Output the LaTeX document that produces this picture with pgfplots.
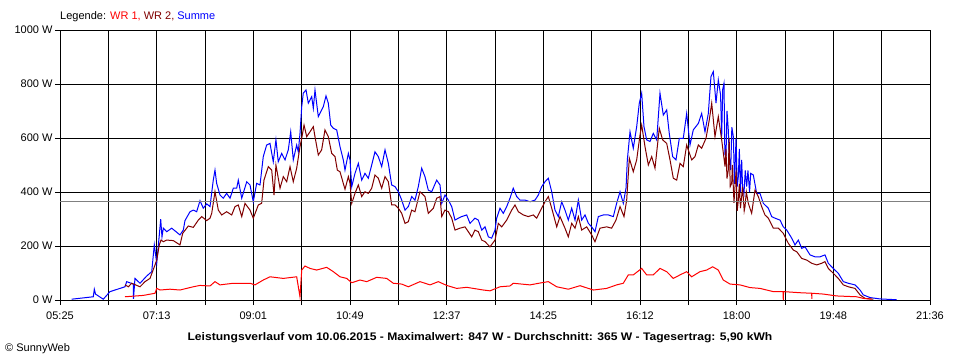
\documentclass[border=0pt]{standalone}
\usepackage{graphicx}
\usepackage{pgfplots}
\pgfplotsset{compat=1.18}
\usepackage{fontspec}
\setmainfont{Liberation Sans}
\definecolor{wrone}{RGB}{255,0,0}
\definecolor{wrtwo}{RGB}{128,0,0}
\definecolor{summe}{RGB}{0,0,255}
\definecolor{avg}{RGB}{128,128,128}

\begin{document}
\begin{tikzpicture}[font=\fontsize{11pt}{13pt}\selectfont]
\begin{axis}[
  at={(60pt,60pt)}, anchor=south west,
  scale only axis, width=870pt, height=270pt,
  xmin=5.4, xmax=21.6, ymin=0, ymax=1000,
  xtick={5.4,7.2,9.0,10.8,12.6,14.4,16.2,18.0,19.8,21.6},
  xticklabels={05:25,07:13,09:01,10:49,12:37,14:25,16:12,18:00,19:48,21:36},
  minor xtick={6.3,8.1,9.9,11.7,13.5,15.3,17.1,18.9,20.7},
  ytick={0,200,400,600,800,1000},
  yticklabels={0 W,200 W,400 W,600 W,800 W,1000 W},
  xtick pos=bottom, ytick pos=left,
  tick align=outside,
  major tick length=5pt, minor tick length=5pt,
  tick style={black, line width=1pt},
  minor tick style={black, line width=1pt},
  grid=both,
  major grid style={black, line width=1pt},
  minor grid style={black, line width=1pt},
  axis line style={black, line width=1pt},
  ticklabel style={font=\fontsize{11pt}{13pt}\selectfont},
  xticklabel style={yshift=-3pt},
  yticklabel style={xshift=1pt},
]
\addplot[summe, line width=1pt] coordinates {
(5.618,3)(6.020,12)(6.039,40)(6.061,22)(6.206,3)(6.331,31)(6.610,49)(6.642,68)(6.764,59)(6.768,4)(6.796,80)(6.890,62)(7.015,89)(7.108,105)(7.156,204)(7.201,136)(7.249,241)(7.275,299)(7.299,234)(7.324,266)(7.387,253)(7.480,266)(7.634,241)(7.696,259)(7.727,294)(7.821,327)(7.882,333)(7.945,327)(8.007,368)(8.068,340)(8.132,356)(8.193,346)(8.254,444)(8.286,481)(8.317,432)(8.379,389)(8.440,377)(8.503,395)(8.566,377)(8.627,414)(8.690,414)(8.720,444)(8.784,377)(8.877,438)(8.938,426)(8.999,364)(9.062,432)(9.124,426)(9.185,531)(9.248,574)(9.310,580)(9.371,512)(9.421,593)(9.464,512)(9.528,543)(9.590,519)(9.651,556)(9.696,623)(9.744,519)(9.807,574)(9.837,549)(9.869,617)(9.901,716)(9.930,766)(9.981,778)(10.024,729)(10.087,753)(10.117,710)(10.148,778)(10.210,679)(10.303,716)(10.353,756)(10.396,729)(10.441,648)(10.489,636)(10.552,630)(10.614,568)(10.675,519)(10.707,481)(10.769,543)(10.800,519)(10.832,420)(10.893,469)(10.955,506)(11.018,444)(11.079,469)(11.141,451)(11.204,500)(11.265,549)(11.327,531)(11.390,494)(11.452,556)(11.514,506)(11.576,426)(11.638,420)(11.700,401)(11.763,370)(11.824,333)(11.886,346)(11.949,383)(12.010,370)(12.072,420)(12.135,488)(12.196,457)(12.258,407)(12.321,401)(12.414,444)(12.476,426)(12.508,358)(12.569,389)(12.631,370)(12.694,346)(12.755,296)(12.817,303)(12.880,309)(12.973,315)(13.034,284)(13.127,303)(13.189,296)(13.253,259)(13.314,271)(13.376,234)(13.438,229)(13.500,259)(13.531,303)(13.593,340)(13.654,321)(13.718,346)(13.779,377)(13.840,414)(13.904,383)(13.966,370)(14.059,370)(14.152,364)(14.245,370)(14.307,389)(14.370,420)(14.431,438)(14.493,451)(14.556,401)(14.617,333)(14.679,309)(14.742,364)(14.803,333)(14.865,296)(14.928,340)(14.990,296)(15.052,370)(15.114,296)(15.176,315)(15.238,284)(15.300,271)(15.362,253)(15.424,309)(15.517,315)(15.610,315)(15.703,309)(15.765,358)(15.828,401)(15.889,358)(15.940,415)(15.964,519)(16.014,623)(16.075,562)(16.138,642)(16.187,729)(16.231,766)(16.274,642)(16.324,593)(16.386,587)(16.447,617)(16.511,593)(16.572,766)(16.634,685)(16.697,704)(16.745,617)(16.808,531)(16.870,519)(16.932,599)(17.006,599)(17.069,691)(17.131,574)(17.192,630)(17.286,654)(17.348,691)(17.410,623)(17.472,691)(17.521,827)(17.565,846)(17.615,729)(17.658,815)(17.700,760)(17.721,605)(17.740,780)(17.764,803)(17.780,540)(17.801,531)(17.820,700)(17.844,630)(17.860,540)(17.889,481)(17.910,640)(17.938,605)(17.960,430)(17.988,599)(18.010,420)(18.031,457)(18.050,560)(18.070,400)(18.093,519)(18.110,420)(18.136,395)(18.160,480)(18.186,420)(18.210,480)(18.240,400)(18.261,469)(18.310,463)(18.372,395)(18.434,395)(18.496,358)(18.589,340)(18.652,309)(18.714,303)(18.807,296)(18.868,271)(18.932,259)(19.025,229)(19.086,204)(19.148,222)(19.211,191)(19.272,197)(19.366,167)(19.459,160)(19.552,160)(19.645,167)(19.706,136)(19.799,117)(19.892,99)(19.986,68)(20.079,62)(20.203,56)(20.297,37)(20.358,19)(20.483,9)(20.669,4)(20.980,1)
};
\addplot[wrtwo, line width=1pt] coordinates {
(6.610,56)(6.672,49)(6.735,62)(6.890,49)(6.983,68)(7.076,80)(7.169,130)(7.201,148)(7.249,204)(7.281,222)(7.324,216)(7.387,222)(7.510,220)(7.634,204)(7.685,247)(7.789,274)(7.882,269)(7.976,296)(8.039,309)(8.132,294)(8.193,303)(8.225,321)(8.286,401)(8.348,333)(8.411,315)(8.503,327)(8.597,315)(8.659,346)(8.720,352)(8.784,309)(8.845,358)(8.938,333)(8.999,303)(9.093,352)(9.155,358)(9.198,444)(9.279,494)(9.342,481)(9.385,389)(9.421,500)(9.497,414)(9.558,457)(9.621,438)(9.683,494)(9.744,438)(9.807,488)(9.869,568)(9.901,599)(9.944,648)(9.994,605)(10.055,623)(10.117,642)(10.148,605)(10.210,537)(10.272,556)(10.334,630)(10.396,605)(10.459,543)(10.521,531)(10.564,481)(10.614,475)(10.675,432)(10.707,410)(10.769,457)(10.800,432)(10.832,358)(10.893,395)(10.955,426)(11.018,383)(11.079,401)(11.141,395)(11.204,414)(11.265,463)(11.327,451)(11.390,414)(11.452,457)(11.514,438)(11.576,352)(11.638,352)(11.700,340)(11.763,321)(11.824,284)(11.886,290)(11.949,333)(12.010,327)(12.103,401)(12.196,383)(12.258,321)(12.352,340)(12.414,377)(12.476,383)(12.508,309)(12.569,333)(12.631,327)(12.694,303)(12.755,259)(12.848,266)(12.941,271)(13.003,253)(13.066,234)(13.127,259)(13.189,253)(13.253,222)(13.314,216)(13.407,197)(13.500,222)(13.562,284)(13.625,271)(13.718,296)(13.811,333)(13.872,352)(13.934,327)(14.027,315)(14.120,309)(14.213,315)(14.276,303)(14.369,340)(14.431,364)(14.493,383)(14.556,340)(14.649,271)(14.710,309)(14.803,266)(14.865,234)(14.928,284)(14.990,266)(15.052,309)(15.114,259)(15.207,271)(15.300,241)(15.362,216)(15.455,266)(15.580,271)(15.672,266)(15.753,296)(15.828,346)(15.902,309)(15.952,370)(16.001,525)(16.075,475)(16.138,519)(16.200,611)(16.231,648)(16.293,568)(16.355,500)(16.418,531)(16.479,488)(16.559,636)(16.622,593)(16.697,580)(16.759,519)(16.820,451)(16.883,444)(16.945,506)(17.006,494)(17.069,574)(17.162,519)(17.224,531)(17.286,574)(17.348,562)(17.429,599)(17.490,667)(17.535,729)(17.596,605)(17.658,679)(17.721,593)(17.783,494)(17.800,560)(17.820,450)(17.844,481)(17.860,600)(17.880,420)(17.907,432)(17.920,500)(17.950,360)(17.969,420)(17.990,480)(18.010,330)(18.031,370)(18.050,430)(18.070,340)(18.093,383)(18.110,420)(18.140,330)(18.155,346)(18.180,400)(18.217,358)(18.279,321)(18.341,407)(18.403,383)(18.465,346)(18.527,315)(18.589,303)(18.682,266)(18.775,266)(18.868,247)(18.962,210)(19.055,185)(19.118,179)(19.211,154)(19.304,148)(19.397,136)(19.490,130)(19.583,136)(19.645,142)(19.706,117)(19.799,99)(19.892,80)(19.986,56)(20.079,49)(20.203,43)(20.297,19)(20.390,6)(20.545,3)
};
\addplot[wrone, line width=1pt] coordinates {
(6.610,12)(6.951,17)(7.169,25)(7.201,43)(7.262,37)(7.448,40)(7.634,37)(7.882,49)(8.007,54)(8.193,52)(8.286,68)(8.379,56)(8.627,62)(8.938,62)(9.031,56)(9.185,74)(9.310,86)(9.558,80)(9.807,86)(9.869,12)(9.901,111)(9.962,126)(10.055,117)(10.179,111)(10.366,121)(10.489,105)(10.614,86)(10.738,80)(10.832,64)(10.986,74)(11.111,68)(11.297,84)(11.483,80)(11.607,62)(11.763,59)(11.886,49)(12.103,68)(12.290,56)(12.445,68)(12.600,54)(12.786,43)(12.973,47)(13.096,43)(13.283,37)(13.407,34)(13.593,49)(13.779,52)(13.840,62)(14.152,56)(14.370,64)(14.493,68)(14.649,49)(14.865,40)(15.083,53)(15.331,37)(15.580,43)(15.765,56)(15.889,62)(15.982,93)(16.075,93)(16.231,117)(16.324,93)(16.447,93)(16.572,117)(16.697,105)(16.820,80)(16.945,93)(17.069,105)(17.162,86)(17.317,105)(17.441,111)(17.553,123)(17.658,111)(17.751,74)(17.876,59)(18.062,56)(18.248,46)(18.434,43)(18.682,31)(18.863,31)(18.868,0)(18.874,31)(19.179,27)(19.397,25)(19.399,4)(19.403,25)(19.614,22)(19.863,15)(20.235,12)(20.358,6)(20.514,3)
};
\addplot[avg, line width=1pt] coordinates {(5.4,365) (21.6,365)};
\end{axis}
\node[anchor=west, inner sep=0pt] at (60pt,343pt) {Legende: \textcolor{wrone}{WR 1,} \textcolor{wrtwo}{WR 2,} \textcolor{summe}{Summe}};
\node[anchor=center, inner sep=0pt, font=\fontsize{11pt}{13pt}\selectfont\bfseries] at (480pt,22pt) {\scalebox{1.1}[1]{Leistungsverlauf vom 10.06.2015 - Maximalwert: 847 W - Durchschnitt: 365 W - Tagesertrag: 5,90 kWh}};
\node[anchor=west, inner sep=0pt] at (5pt,11pt) {\textcopyright\ SunnyWeb};
\pgfresetboundingbox
\path[use as bounding box] (0pt,0pt) rectangle (960pt,360pt);
\end{tikzpicture}
\end{document}
